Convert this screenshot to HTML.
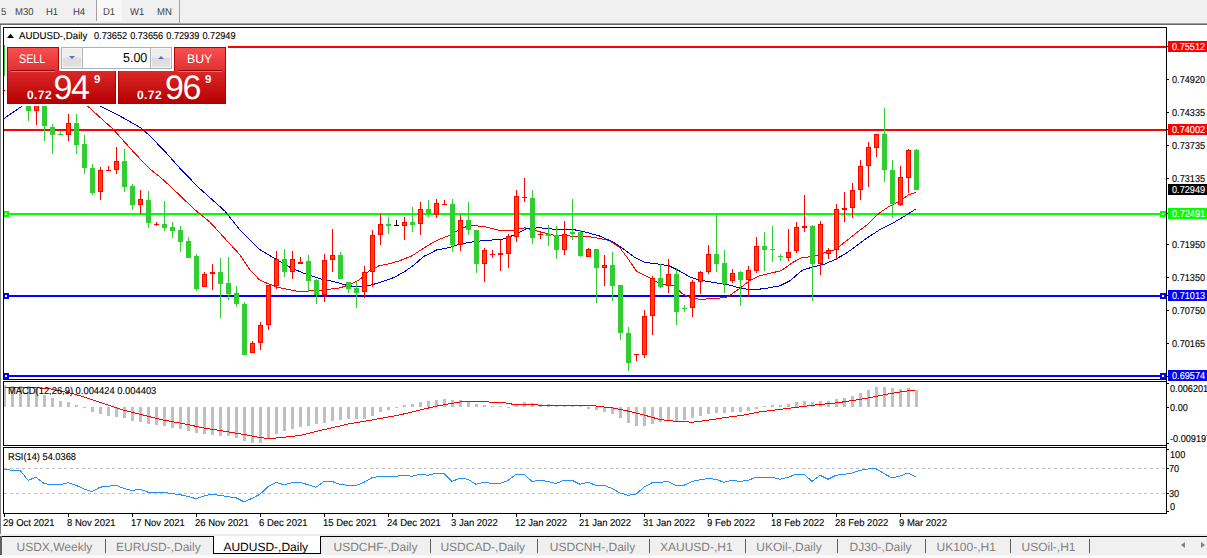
<!DOCTYPE html>
<html><head><meta charset="utf-8"><title>AUDUSD-,Daily</title>
<style>
html,body{margin:0;padding:0;}
body{text-rendering:geometricPrecision;width:1207px;height:558px;overflow:hidden;background:#fff;position:relative;font-family:"Liberation Sans",sans-serif;}
.abs{position:absolute;white-space:nowrap;}
.m,.ax,.lab span{-webkit-text-stroke:0.12px;}
.ax{position:absolute;left:1171.5px;font-size:10px;line-height:10px;color:#000;white-space:nowrap;transform-origin:0 0;transform:scaleX(0.915);}
.lab{position:absolute;left:1168px;width:39px;height:11px;overflow:hidden;}
.lab span{position:absolute;left:3.5px;top:2px;font-size:10px;line-height:10px;color:#fff;white-space:nowrap;transform-origin:0 0;transform:scaleX(0.915);}
.dt{position:absolute;top:517px;font-size:10px;line-height:10px;color:#000;white-space:nowrap;transform-origin:0 0;}
.tb{position:absolute;top:8px;font-size:10px;line-height:10px;color:#404040;transform:scaleX(0.95);white-space:nowrap;transform-origin:0 0;}
.tab{position:absolute;top:540px;font-size:12px;line-height:14px;color:#808080;white-space:nowrap;transform-origin:0 0;}
.sep{position:absolute;top:539px;width:1px;height:14px;background:#606060;}
</style></head><body>

<div class="abs" style="left:0;top:0;width:1207px;height:23px;background:#f0f0f0"></div>
<div class="abs" style="left:0;top:23px;width:1207px;height:1px;background:#a0a0a0"></div>
<div class="abs" style="left:0;top:24px;width:1207px;height:1px;background:#696969"></div>
<div class="abs" style="left:0;top:25px;width:1px;height:509px;background:#808080"></div>
<div class="abs" style="left:96px;top:0;width:26px;height:21px;background:#f8f8f8;border-left:1px solid #a0a0a0;box-sizing:border-box"></div>
<div class="abs" style="left:179px;top:0;width:1px;height:23px;background:#a0a0a0"></div>
<div class="tb" style="left:0.5px">5</div>
<div class="tb" style="left:15.3px">M30</div>
<div class="tb" style="left:45.7px">H1</div>
<div class="tb" style="left:73.4px">H4</div>
<div class="tb" style="left:102.6px">D1</div>
<div class="tb" style="left:130.0px">W1</div>
<div class="tb" style="left:156.6px">MN</div>
<svg class="abs" style="left:0;top:0" width="1207" height="558" viewBox="0 0 1207 558" shape-rendering="crispEdges">
<rect x="4" y="45" width="1" height="31" fill="#32cd32"/>
<rect x="228" y="46" width="938" height="2" fill="#ff0000"/>
<rect x="4" y="129" width="1162" height="2" fill="#ff0000"/>
<rect x="4" y="213" width="1162" height="2" fill="#00ff00"/>
<rect x="4" y="295" width="1162" height="2" fill="#0000ff"/>
<rect x="4" y="375" width="1162" height="2" fill="#0000ff"/>
<rect x="3" y="211" width="6" height="6" fill="#00ff00"/><rect x="5" y="213" width="2" height="2" fill="#fff"/>
<rect x="1160" y="211" width="6" height="6" fill="#00ff00"/><rect x="1162" y="213" width="2" height="2" fill="#fff"/>
<rect x="3" y="293" width="6" height="6" fill="#0000ff"/><rect x="5" y="295" width="2" height="2" fill="#fff"/>
<rect x="1160" y="293" width="6" height="6" fill="#0000ff"/><rect x="1162" y="295" width="2" height="2" fill="#fff"/>
<rect x="3" y="373" width="6" height="6" fill="#0000ff"/><rect x="5" y="375" width="2" height="2" fill="#fff"/>
<rect x="1160" y="373" width="6" height="6" fill="#0000ff"/><rect x="1162" y="375" width="2" height="2" fill="#fff"/>
<polyline points="4.0,91.0 40.0,88.0 70.0,92.0 83.0,101.8 87.8,106.2 112.8,128.9 135.4,154.0 150.5,169.5 160.0,177.0 170.0,186.0 194.9,209.8 209.8,222.0 224.8,238.4 239.7,254.6 249.7,269.6 259.6,280.0 269.6,284.3 279.6,287.8 289.5,289.8 299.5,291.6 309.5,291.0 324.4,289.8 339.4,288.0 349.3,284.8 359.3,279.9 369.3,271.0 379.2,265.7 389.2,263.7 399.0,261.0 411.6,256.0 424.0,248.0 436.5,240.5 450.0,235.2 462.4,227.8 472.4,225.3 484.9,226.8 499.8,230.5 512.3,230.3 524.7,227.8 539.7,231.8 554.6,235.3 569.6,236.0 584.5,236.0 599.5,238.5 609.4,240.5 619.4,247.2 626.9,257.2 636.8,271.6 649.3,277.6 659.3,283.3 669.2,285.0 674.6,286.0 682.0,293.6 689.5,297.3 699.5,299.3 714.4,298.6 726.9,297.3 734.0,292.5 739.3,288.6 749.3,281.0 759.3,276.0 771.7,272.9 779.8,271.0 784.2,268.7 792.3,262.7 802.3,257.3 812.2,256.8 822.2,253.5 834.7,249.8 844.6,242.3 854.6,234.3 867.0,224.9 879.5,212.9 889.5,206.2 899.4,201.2 908.2,195.0 916.4,192.0" fill="none" stroke="#ff0000" stroke-width="1"/>
<polyline points="4.0,118.5 21.5,106.5 25.0,104.0 60.0,92.0 95.6,104.0 100.3,106.3 120.4,116.3 140.4,127.6 150.5,136.4 160.0,146.4 163.7,150.0 182.4,171.0 199.8,188.6 224.8,211.0 239.7,229.7 249.7,240.0 259.6,249.5 274.6,258.5 289.5,267.0 304.5,273.6 319.4,278.6 334.4,281.8 346.8,285.3 356.8,286.8 366.8,286.0 379.2,282.8 394.2,277.4 404.2,271.9 414.0,265.0 424.0,256.2 429.0,254.0 436.5,250.0 442.0,249.0 450.0,247.5 455.0,245.5 470.0,242.2 484.9,240.5 502.3,239.3 514.8,234.8 527.2,228.5 539.7,227.8 554.6,229.3 572.0,229.3 584.5,231.8 599.5,236.0 614.4,242.7 624.4,249.7 634.4,257.2 644.3,262.2 659.3,264.2 669.2,265.9 679.2,270.9 689.2,276.6 699.0,280.0 714.0,282.6 729.0,285.0 740.0,288.0 750.0,289.6 762.4,288.9 779.8,285.9 789.8,280.9 802.3,270.2 812.2,267.2 824.7,264.0 834.7,259.7 844.6,254.3 854.6,247.3 867.0,238.0 879.5,229.9 892.0,223.6 904.4,216.2 916.4,208.7" fill="none" stroke="#0000cd" stroke-width="1"/>
<rect x="28" y="85" width="1" height="36" fill="#32cd32"/>
<rect x="26" y="90" width="5" height="21" fill="#32cd32"/>
<rect x="36" y="88" width="1" height="37" fill="#ff0000"/>
<rect x="34" y="92" width="5" height="19" fill="#ff0000"/>
<rect x="35" y="93" width="3" height="17" fill="#ff4500"/>
<rect x="44" y="90" width="1" height="51" fill="#32cd32"/>
<rect x="42" y="95" width="5" height="31" fill="#32cd32"/>
<rect x="52" y="124" width="1" height="30" fill="#32cd32"/>
<rect x="50" y="127" width="5" height="8" fill="#32cd32"/>
<rect x="60" y="131" width="1" height="4" fill="#32cd32"/>
<rect x="58" y="134" width="5" height="1" fill="#32cd32"/>
<rect x="68" y="114" width="1" height="27" fill="#ff0000"/>
<rect x="66" y="123" width="5" height="12" fill="#ff0000"/>
<rect x="67" y="124" width="3" height="10" fill="#ff4500"/>
<rect x="76" y="114" width="1" height="40" fill="#32cd32"/>
<rect x="74" y="123" width="5" height="22" fill="#32cd32"/>
<rect x="84" y="135" width="1" height="39" fill="#32cd32"/>
<rect x="82" y="144" width="5" height="24" fill="#32cd32"/>
<rect x="92" y="164" width="1" height="31" fill="#32cd32"/>
<rect x="90" y="168" width="5" height="25" fill="#32cd32"/>
<rect x="100" y="167" width="1" height="33" fill="#ff0000"/>
<rect x="98" y="170" width="5" height="22" fill="#ff0000"/>
<rect x="99" y="171" width="3" height="20" fill="#ff4500"/>
<rect x="108" y="166" width="1" height="4" fill="#ff0000"/>
<rect x="106" y="170" width="5" height="1" fill="#ff0000"/>
<rect x="116" y="147" width="1" height="27" fill="#ff0000"/>
<rect x="114" y="161" width="5" height="9" fill="#ff0000"/>
<rect x="115" y="162" width="3" height="7" fill="#ff4500"/>
<rect x="124" y="149" width="1" height="43" fill="#32cd32"/>
<rect x="122" y="161" width="5" height="26" fill="#32cd32"/>
<rect x="132" y="184" width="1" height="26" fill="#32cd32"/>
<rect x="130" y="186" width="5" height="19" fill="#32cd32"/>
<rect x="140" y="190" width="1" height="24" fill="#ff0000"/>
<rect x="138" y="199" width="5" height="6" fill="#ff0000"/>
<rect x="139" y="200" width="3" height="4" fill="#ff4500"/>
<rect x="148" y="191" width="1" height="37" fill="#32cd32"/>
<rect x="146" y="200" width="5" height="23" fill="#32cd32"/>
<rect x="156" y="222" width="1" height="4" fill="#ff0000"/>
<rect x="154" y="224" width="5" height="1" fill="#ff0000"/>
<rect x="164" y="201" width="1" height="30" fill="#32cd32"/>
<rect x="162" y="224" width="5" height="4" fill="#32cd32"/>
<rect x="172" y="222" width="1" height="16" fill="#32cd32"/>
<rect x="170" y="227" width="5" height="4" fill="#32cd32"/>
<rect x="180" y="226" width="1" height="26" fill="#32cd32"/>
<rect x="178" y="230" width="5" height="12" fill="#32cd32"/>
<rect x="188" y="237" width="1" height="21" fill="#32cd32"/>
<rect x="186" y="241" width="5" height="17" fill="#32cd32"/>
<rect x="196" y="254" width="1" height="37" fill="#32cd32"/>
<rect x="194" y="256" width="5" height="33" fill="#32cd32"/>
<rect x="204" y="272" width="1" height="15" fill="#ff0000"/>
<rect x="202" y="274" width="5" height="13" fill="#ff0000"/>
<rect x="203" y="275" width="3" height="11" fill="#ff4500"/>
<rect x="212" y="264" width="1" height="26" fill="#ff0000"/>
<rect x="210" y="272" width="5" height="2" fill="#ff0000"/>
<rect x="220" y="258" width="1" height="60" fill="#32cd32"/>
<rect x="218" y="272" width="5" height="12" fill="#32cd32"/>
<rect x="228" y="257" width="1" height="43" fill="#32cd32"/>
<rect x="226" y="283" width="5" height="11" fill="#32cd32"/>
<rect x="236" y="286" width="1" height="21" fill="#32cd32"/>
<rect x="234" y="293" width="5" height="11" fill="#32cd32"/>
<rect x="244" y="302" width="1" height="53" fill="#32cd32"/>
<rect x="242" y="304" width="5" height="51" fill="#32cd32"/>
<rect x="252" y="341" width="1" height="12" fill="#ff0000"/>
<rect x="250" y="343" width="5" height="10" fill="#ff0000"/>
<rect x="251" y="344" width="3" height="8" fill="#ff4500"/>
<rect x="260" y="322" width="1" height="28" fill="#ff0000"/>
<rect x="258" y="325" width="5" height="18" fill="#ff0000"/>
<rect x="259" y="326" width="3" height="16" fill="#ff4500"/>
<rect x="268" y="285" width="1" height="45" fill="#ff0000"/>
<rect x="266" y="285" width="5" height="40" fill="#ff0000"/>
<rect x="267" y="286" width="3" height="38" fill="#ff4500"/>
<rect x="276" y="251" width="1" height="38" fill="#ff0000"/>
<rect x="274" y="259" width="5" height="27" fill="#ff0000"/>
<rect x="275" y="260" width="3" height="25" fill="#ff4500"/>
<rect x="284" y="249" width="1" height="28" fill="#32cd32"/>
<rect x="282" y="259" width="5" height="13" fill="#32cd32"/>
<rect x="292" y="251" width="1" height="28" fill="#ff0000"/>
<rect x="290" y="259" width="5" height="13" fill="#ff0000"/>
<rect x="291" y="260" width="3" height="11" fill="#ff4500"/>
<rect x="300" y="257" width="1" height="7" fill="#ff0000"/>
<rect x="298" y="262" width="5" height="2" fill="#ff0000"/>
<rect x="308" y="255" width="1" height="37" fill="#32cd32"/>
<rect x="306" y="261" width="5" height="20" fill="#32cd32"/>
<rect x="316" y="279" width="1" height="25" fill="#32cd32"/>
<rect x="314" y="280" width="5" height="15" fill="#32cd32"/>
<rect x="324" y="254" width="1" height="48" fill="#ff0000"/>
<rect x="322" y="260" width="5" height="35" fill="#ff0000"/>
<rect x="323" y="261" width="3" height="33" fill="#ff4500"/>
<rect x="332" y="229" width="1" height="43" fill="#ff0000"/>
<rect x="330" y="255" width="5" height="5" fill="#ff0000"/>
<rect x="331" y="256" width="3" height="3" fill="#ff4500"/>
<rect x="340" y="252" width="1" height="27" fill="#32cd32"/>
<rect x="338" y="255" width="5" height="24" fill="#32cd32"/>
<rect x="348" y="282" width="1" height="11" fill="#32cd32"/>
<rect x="346" y="282" width="5" height="7" fill="#32cd32"/>
<rect x="356" y="282" width="1" height="26" fill="#32cd32"/>
<rect x="354" y="288" width="5" height="5" fill="#32cd32"/>
<rect x="364" y="266" width="1" height="32" fill="#ff0000"/>
<rect x="362" y="272" width="5" height="20" fill="#ff0000"/>
<rect x="363" y="273" width="3" height="18" fill="#ff4500"/>
<rect x="372" y="230" width="1" height="57" fill="#ff0000"/>
<rect x="370" y="235" width="5" height="37" fill="#ff0000"/>
<rect x="371" y="236" width="3" height="35" fill="#ff4500"/>
<rect x="380" y="214" width="1" height="31" fill="#ff0000"/>
<rect x="378" y="224" width="5" height="11" fill="#ff0000"/>
<rect x="379" y="225" width="3" height="9" fill="#ff4500"/>
<rect x="388" y="217" width="1" height="17" fill="#32cd32"/>
<rect x="386" y="224" width="5" height="2" fill="#32cd32"/>
<rect x="396" y="220" width="1" height="6" fill="#000"/>
<rect x="394" y="225" width="5" height="1" fill="#000"/>
<rect x="404" y="217" width="1" height="23" fill="#ff0000"/>
<rect x="402" y="222" width="5" height="4" fill="#ff0000"/>
<rect x="403" y="223" width="3" height="2" fill="#ff4500"/>
<rect x="412" y="207" width="1" height="25" fill="#32cd32"/>
<rect x="410" y="222" width="5" height="3" fill="#32cd32"/>
<rect x="420" y="202" width="1" height="33" fill="#ff0000"/>
<rect x="418" y="209" width="5" height="15" fill="#ff0000"/>
<rect x="419" y="210" width="3" height="13" fill="#ff4500"/>
<rect x="428" y="200" width="1" height="17" fill="#32cd32"/>
<rect x="426" y="209" width="5" height="5" fill="#32cd32"/>
<rect x="436" y="199" width="1" height="19" fill="#ff0000"/>
<rect x="434" y="203" width="5" height="12" fill="#ff0000"/>
<rect x="435" y="204" width="3" height="10" fill="#ff4500"/>
<rect x="444" y="200" width="1" height="5" fill="#ff0000"/>
<rect x="442" y="204" width="5" height="1" fill="#ff0000"/>
<rect x="452" y="199" width="1" height="53" fill="#32cd32"/>
<rect x="450" y="204" width="5" height="41" fill="#32cd32"/>
<rect x="460" y="215" width="1" height="36" fill="#ff0000"/>
<rect x="458" y="220" width="5" height="25" fill="#ff0000"/>
<rect x="459" y="221" width="3" height="23" fill="#ff4500"/>
<rect x="468" y="202" width="1" height="33" fill="#32cd32"/>
<rect x="466" y="220" width="5" height="10" fill="#32cd32"/>
<rect x="476" y="230" width="1" height="43" fill="#32cd32"/>
<rect x="474" y="230" width="5" height="34" fill="#32cd32"/>
<rect x="484" y="248" width="1" height="34" fill="#ff0000"/>
<rect x="482" y="250" width="5" height="14" fill="#ff0000"/>
<rect x="483" y="251" width="3" height="12" fill="#ff4500"/>
<rect x="492" y="250" width="1" height="8" fill="#ff0000"/>
<rect x="490" y="254" width="5" height="1" fill="#ff0000"/>
<rect x="500" y="240" width="1" height="31" fill="#ff0000"/>
<rect x="498" y="253" width="5" height="2" fill="#ff0000"/>
<rect x="508" y="234" width="1" height="34" fill="#ff0000"/>
<rect x="506" y="236" width="5" height="18" fill="#ff0000"/>
<rect x="507" y="237" width="3" height="16" fill="#ff4500"/>
<rect x="516" y="190" width="1" height="52" fill="#ff0000"/>
<rect x="514" y="196" width="5" height="41" fill="#ff0000"/>
<rect x="515" y="197" width="3" height="39" fill="#ff4500"/>
<rect x="524" y="178" width="1" height="24" fill="#ff0000"/>
<rect x="522" y="197" width="5" height="1" fill="#ff0000"/>
<rect x="532" y="190" width="1" height="54" fill="#32cd32"/>
<rect x="530" y="198" width="5" height="40" fill="#32cd32"/>
<rect x="540" y="232" width="1" height="7" fill="#ff0000"/>
<rect x="538" y="234" width="5" height="1" fill="#ff0000"/>
<rect x="548" y="225" width="1" height="21" fill="#32cd32"/>
<rect x="546" y="234" width="5" height="2" fill="#32cd32"/>
<rect x="556" y="226" width="1" height="33" fill="#32cd32"/>
<rect x="554" y="235" width="5" height="15" fill="#32cd32"/>
<rect x="564" y="221" width="1" height="34" fill="#ff0000"/>
<rect x="562" y="234" width="5" height="16" fill="#ff0000"/>
<rect x="563" y="235" width="3" height="14" fill="#ff4500"/>
<rect x="572" y="199" width="1" height="41" fill="#32cd32"/>
<rect x="570" y="232" width="5" height="2" fill="#32cd32"/>
<rect x="580" y="230" width="1" height="27" fill="#32cd32"/>
<rect x="578" y="232" width="5" height="24" fill="#32cd32"/>
<rect x="588" y="248" width="1" height="9" fill="#ff0000"/>
<rect x="586" y="249" width="5" height="8" fill="#ff0000"/>
<rect x="587" y="250" width="3" height="6" fill="#ff4500"/>
<rect x="596" y="249" width="1" height="54" fill="#32cd32"/>
<rect x="594" y="249" width="5" height="19" fill="#32cd32"/>
<rect x="604" y="255" width="1" height="31" fill="#ff0000"/>
<rect x="602" y="265" width="5" height="3" fill="#ff0000"/>
<rect x="603" y="266" width="3" height="1" fill="#ff4500"/>
<rect x="612" y="252" width="1" height="49" fill="#32cd32"/>
<rect x="610" y="265" width="5" height="21" fill="#32cd32"/>
<rect x="620" y="285" width="1" height="55" fill="#32cd32"/>
<rect x="618" y="285" width="5" height="48" fill="#32cd32"/>
<rect x="628" y="327" width="1" height="44" fill="#32cd32"/>
<rect x="626" y="333" width="5" height="30" fill="#32cd32"/>
<rect x="636" y="354" width="1" height="7" fill="#ff0000"/>
<rect x="634" y="354" width="5" height="1" fill="#ff0000"/>
<rect x="644" y="310" width="1" height="48" fill="#ff0000"/>
<rect x="642" y="316" width="5" height="39" fill="#ff0000"/>
<rect x="643" y="317" width="3" height="37" fill="#ff4500"/>
<rect x="652" y="276" width="1" height="59" fill="#ff0000"/>
<rect x="650" y="278" width="5" height="38" fill="#ff0000"/>
<rect x="651" y="279" width="3" height="36" fill="#ff4500"/>
<rect x="660" y="264" width="1" height="24" fill="#32cd32"/>
<rect x="658" y="278" width="5" height="9" fill="#32cd32"/>
<rect x="668" y="259" width="1" height="34" fill="#ff0000"/>
<rect x="666" y="274" width="5" height="12" fill="#ff0000"/>
<rect x="667" y="275" width="3" height="10" fill="#ff4500"/>
<rect x="676" y="268" width="1" height="57" fill="#32cd32"/>
<rect x="674" y="274" width="5" height="38" fill="#32cd32"/>
<rect x="684" y="305" width="1" height="7" fill="#32cd32"/>
<rect x="682" y="308" width="5" height="1" fill="#32cd32"/>
<rect x="692" y="280" width="1" height="37" fill="#ff0000"/>
<rect x="690" y="282" width="5" height="26" fill="#ff0000"/>
<rect x="691" y="283" width="3" height="24" fill="#ff4500"/>
<rect x="700" y="271" width="1" height="23" fill="#ff0000"/>
<rect x="698" y="272" width="5" height="10" fill="#ff0000"/>
<rect x="699" y="273" width="3" height="8" fill="#ff4500"/>
<rect x="708" y="245" width="1" height="29" fill="#ff0000"/>
<rect x="706" y="254" width="5" height="18" fill="#ff0000"/>
<rect x="707" y="255" width="3" height="16" fill="#ff4500"/>
<rect x="716" y="215" width="1" height="57" fill="#32cd32"/>
<rect x="714" y="254" width="5" height="10" fill="#32cd32"/>
<rect x="724" y="250" width="1" height="43" fill="#32cd32"/>
<rect x="722" y="263" width="5" height="21" fill="#32cd32"/>
<rect x="732" y="269" width="1" height="14" fill="#ff0000"/>
<rect x="730" y="273" width="5" height="8" fill="#ff0000"/>
<rect x="731" y="274" width="3" height="6" fill="#ff4500"/>
<rect x="740" y="271" width="1" height="35" fill="#32cd32"/>
<rect x="738" y="272" width="5" height="8" fill="#32cd32"/>
<rect x="748" y="266" width="1" height="31" fill="#ff0000"/>
<rect x="746" y="270" width="5" height="10" fill="#ff0000"/>
<rect x="747" y="271" width="3" height="8" fill="#ff4500"/>
<rect x="756" y="237" width="1" height="36" fill="#ff0000"/>
<rect x="754" y="246" width="5" height="25" fill="#ff0000"/>
<rect x="755" y="247" width="3" height="23" fill="#ff4500"/>
<rect x="764" y="232" width="1" height="39" fill="#32cd32"/>
<rect x="762" y="246" width="5" height="4" fill="#32cd32"/>
<rect x="772" y="226" width="1" height="36" fill="#32cd32"/>
<rect x="770" y="249" width="5" height="1" fill="#32cd32"/>
<rect x="780" y="254" width="1" height="7" fill="#32cd32"/>
<rect x="778" y="256" width="5" height="1" fill="#32cd32"/>
<rect x="788" y="229" width="1" height="32" fill="#ff0000"/>
<rect x="786" y="252" width="5" height="6" fill="#ff0000"/>
<rect x="787" y="253" width="3" height="4" fill="#ff4500"/>
<rect x="796" y="222" width="1" height="31" fill="#ff0000"/>
<rect x="794" y="227" width="5" height="24" fill="#ff0000"/>
<rect x="795" y="228" width="3" height="22" fill="#ff4500"/>
<rect x="804" y="195" width="1" height="37" fill="#ff0000"/>
<rect x="802" y="226" width="5" height="2" fill="#ff0000"/>
<rect x="812" y="225" width="1" height="76" fill="#32cd32"/>
<rect x="810" y="226" width="5" height="38" fill="#32cd32"/>
<rect x="820" y="221" width="1" height="54" fill="#ff0000"/>
<rect x="818" y="224" width="5" height="40" fill="#ff0000"/>
<rect x="819" y="225" width="3" height="38" fill="#ff4500"/>
<rect x="828" y="248" width="1" height="11" fill="#ff0000"/>
<rect x="826" y="250" width="5" height="4" fill="#ff0000"/>
<rect x="827" y="251" width="3" height="2" fill="#ff4500"/>
<rect x="836" y="204" width="1" height="56" fill="#ff0000"/>
<rect x="834" y="209" width="5" height="41" fill="#ff0000"/>
<rect x="835" y="210" width="3" height="39" fill="#ff4500"/>
<rect x="844" y="192" width="1" height="30" fill="#ff0000"/>
<rect x="842" y="208" width="5" height="2" fill="#ff0000"/>
<rect x="852" y="183" width="1" height="35" fill="#ff0000"/>
<rect x="850" y="190" width="5" height="18" fill="#ff0000"/>
<rect x="851" y="191" width="3" height="16" fill="#ff4500"/>
<rect x="860" y="160" width="1" height="40" fill="#ff0000"/>
<rect x="858" y="166" width="5" height="24" fill="#ff0000"/>
<rect x="859" y="167" width="3" height="22" fill="#ff4500"/>
<rect x="868" y="142" width="1" height="45" fill="#ff0000"/>
<rect x="866" y="147" width="5" height="19" fill="#ff0000"/>
<rect x="867" y="148" width="3" height="17" fill="#ff4500"/>
<rect x="876" y="134" width="1" height="23" fill="#ff0000"/>
<rect x="874" y="134" width="5" height="14" fill="#ff0000"/>
<rect x="875" y="135" width="3" height="12" fill="#ff4500"/>
<rect x="884" y="108" width="1" height="74" fill="#32cd32"/>
<rect x="882" y="134" width="5" height="36" fill="#32cd32"/>
<rect x="892" y="160" width="1" height="58" fill="#32cd32"/>
<rect x="890" y="170" width="5" height="34" fill="#32cd32"/>
<rect x="900" y="166" width="1" height="40" fill="#ff0000"/>
<rect x="898" y="177" width="5" height="28" fill="#ff0000"/>
<rect x="899" y="178" width="3" height="26" fill="#ff4500"/>
<rect x="908" y="149" width="1" height="44" fill="#ff0000"/>
<rect x="906" y="150" width="5" height="28" fill="#ff0000"/>
<rect x="907" y="151" width="3" height="26" fill="#ff4500"/>
<rect x="916" y="149" width="1" height="41" fill="#32cd32"/>
<rect x="914" y="150" width="5" height="40" fill="#32cd32"/>
<rect x="4" y="385" width="2" height="22" fill="#c0c0c0"/>
<rect x="11" y="386" width="3" height="21" fill="#c0c0c0"/>
<rect x="19" y="386" width="3" height="21" fill="#c0c0c0"/>
<rect x="27" y="386" width="3" height="21" fill="#c0c0c0"/>
<rect x="35" y="387" width="3" height="20" fill="#c0c0c0"/>
<rect x="43" y="395" width="3" height="12" fill="#c0c0c0"/>
<rect x="51" y="398" width="3" height="9" fill="#c0c0c0"/>
<rect x="59" y="401" width="3" height="6" fill="#c0c0c0"/>
<rect x="67" y="402" width="3" height="5" fill="#c0c0c0"/>
<rect x="75" y="405" width="3" height="2" fill="#c0c0c0"/>
<rect x="83" y="407" width="3" height="1" fill="#c0c0c0"/>
<rect x="91" y="407" width="3" height="5" fill="#c0c0c0"/>
<rect x="99" y="407" width="3" height="7" fill="#c0c0c0"/>
<rect x="107" y="407" width="3" height="9" fill="#c0c0c0"/>
<rect x="115" y="407" width="3" height="10" fill="#c0c0c0"/>
<rect x="123" y="407" width="3" height="11" fill="#c0c0c0"/>
<rect x="131" y="407" width="3" height="14" fill="#c0c0c0"/>
<rect x="139" y="407" width="3" height="15" fill="#c0c0c0"/>
<rect x="147" y="407" width="3" height="17" fill="#c0c0c0"/>
<rect x="155" y="407" width="3" height="18" fill="#c0c0c0"/>
<rect x="163" y="407" width="3" height="19" fill="#c0c0c0"/>
<rect x="171" y="407" width="3" height="21" fill="#c0c0c0"/>
<rect x="179" y="407" width="3" height="22" fill="#c0c0c0"/>
<rect x="187" y="407" width="3" height="24" fill="#c0c0c0"/>
<rect x="195" y="407" width="3" height="26" fill="#c0c0c0"/>
<rect x="203" y="407" width="3" height="27" fill="#c0c0c0"/>
<rect x="211" y="407" width="3" height="28" fill="#c0c0c0"/>
<rect x="219" y="407" width="3" height="29" fill="#c0c0c0"/>
<rect x="227" y="407" width="3" height="29" fill="#c0c0c0"/>
<rect x="235" y="407" width="3" height="31" fill="#c0c0c0"/>
<rect x="243" y="407" width="3" height="34" fill="#c0c0c0"/>
<rect x="251" y="407" width="3" height="36" fill="#c0c0c0"/>
<rect x="259" y="407" width="3" height="36" fill="#c0c0c0"/>
<rect x="267" y="407" width="3" height="32" fill="#c0c0c0"/>
<rect x="275" y="407" width="3" height="27" fill="#c0c0c0"/>
<rect x="283" y="407" width="3" height="24" fill="#c0c0c0"/>
<rect x="291" y="407" width="3" height="22" fill="#c0c0c0"/>
<rect x="299" y="407" width="3" height="20" fill="#c0c0c0"/>
<rect x="307" y="407" width="3" height="19" fill="#c0c0c0"/>
<rect x="315" y="407" width="3" height="17" fill="#c0c0c0"/>
<rect x="323" y="407" width="3" height="16" fill="#c0c0c0"/>
<rect x="331" y="407" width="3" height="14" fill="#c0c0c0"/>
<rect x="339" y="407" width="3" height="13" fill="#c0c0c0"/>
<rect x="347" y="407" width="3" height="12" fill="#c0c0c0"/>
<rect x="355" y="407" width="3" height="12" fill="#c0c0c0"/>
<rect x="363" y="407" width="3" height="12" fill="#c0c0c0"/>
<rect x="371" y="407" width="3" height="9" fill="#c0c0c0"/>
<rect x="379" y="407" width="3" height="5" fill="#c0c0c0"/>
<rect x="387" y="407" width="3" height="3" fill="#c0c0c0"/>
<rect x="395" y="407" width="3" height="1" fill="#c0c0c0"/>
<rect x="403" y="405" width="3" height="2" fill="#c0c0c0"/>
<rect x="411" y="404" width="3" height="3" fill="#c0c0c0"/>
<rect x="419" y="402" width="3" height="5" fill="#c0c0c0"/>
<rect x="427" y="401" width="3" height="6" fill="#c0c0c0"/>
<rect x="435" y="400" width="3" height="7" fill="#c0c0c0"/>
<rect x="443" y="399" width="3" height="8" fill="#c0c0c0"/>
<rect x="451" y="400" width="3" height="7" fill="#c0c0c0"/>
<rect x="459" y="400" width="3" height="7" fill="#c0c0c0"/>
<rect x="467" y="402" width="3" height="5" fill="#c0c0c0"/>
<rect x="475" y="404" width="3" height="3" fill="#c0c0c0"/>
<rect x="483" y="405" width="3" height="2" fill="#c0c0c0"/>
<rect x="491" y="406" width="3" height="1" fill="#c0c0c0"/>
<rect x="499" y="406" width="3" height="1" fill="#c0c0c0"/>
<rect x="507" y="407" width="3" height="1" fill="#c0c0c0"/>
<rect x="515" y="404" width="3" height="3" fill="#c0c0c0"/>
<rect x="523" y="402" width="3" height="5" fill="#c0c0c0"/>
<rect x="531" y="403" width="3" height="4" fill="#c0c0c0"/>
<rect x="539" y="404" width="3" height="3" fill="#c0c0c0"/>
<rect x="547" y="404" width="3" height="3" fill="#c0c0c0"/>
<rect x="555" y="405" width="3" height="2" fill="#c0c0c0"/>
<rect x="563" y="405" width="3" height="2" fill="#c0c0c0"/>
<rect x="571" y="406" width="3" height="1" fill="#c0c0c0"/>
<rect x="579" y="406" width="3" height="1" fill="#c0c0c0"/>
<rect x="587" y="407" width="3" height="2" fill="#c0c0c0"/>
<rect x="595" y="407" width="3" height="3" fill="#c0c0c0"/>
<rect x="603" y="407" width="3" height="5" fill="#c0c0c0"/>
<rect x="611" y="407" width="3" height="7" fill="#c0c0c0"/>
<rect x="619" y="407" width="3" height="11" fill="#c0c0c0"/>
<rect x="627" y="407" width="3" height="16" fill="#c0c0c0"/>
<rect x="635" y="407" width="3" height="19" fill="#c0c0c0"/>
<rect x="643" y="407" width="3" height="19" fill="#c0c0c0"/>
<rect x="651" y="407" width="3" height="17" fill="#c0c0c0"/>
<rect x="659" y="407" width="3" height="15" fill="#c0c0c0"/>
<rect x="667" y="407" width="3" height="14" fill="#c0c0c0"/>
<rect x="675" y="407" width="3" height="14" fill="#c0c0c0"/>
<rect x="683" y="407" width="3" height="13" fill="#c0c0c0"/>
<rect x="691" y="407" width="3" height="11" fill="#c0c0c0"/>
<rect x="699" y="407" width="3" height="9" fill="#c0c0c0"/>
<rect x="707" y="407" width="3" height="7" fill="#c0c0c0"/>
<rect x="715" y="407" width="3" height="6" fill="#c0c0c0"/>
<rect x="723" y="407" width="3" height="6" fill="#c0c0c0"/>
<rect x="731" y="407" width="3" height="5" fill="#c0c0c0"/>
<rect x="739" y="407" width="3" height="5" fill="#c0c0c0"/>
<rect x="747" y="407" width="3" height="4" fill="#c0c0c0"/>
<rect x="755" y="407" width="3" height="2" fill="#c0c0c0"/>
<rect x="763" y="406" width="3" height="1" fill="#c0c0c0"/>
<rect x="771" y="405" width="3" height="2" fill="#c0c0c0"/>
<rect x="779" y="405" width="3" height="2" fill="#c0c0c0"/>
<rect x="787" y="404" width="3" height="3" fill="#c0c0c0"/>
<rect x="795" y="402" width="3" height="5" fill="#c0c0c0"/>
<rect x="803" y="401" width="3" height="6" fill="#c0c0c0"/>
<rect x="811" y="402" width="3" height="5" fill="#c0c0c0"/>
<rect x="819" y="401" width="3" height="6" fill="#c0c0c0"/>
<rect x="827" y="401" width="3" height="6" fill="#c0c0c0"/>
<rect x="835" y="399" width="3" height="8" fill="#c0c0c0"/>
<rect x="843" y="398" width="3" height="9" fill="#c0c0c0"/>
<rect x="851" y="396" width="3" height="11" fill="#c0c0c0"/>
<rect x="859" y="393" width="3" height="14" fill="#c0c0c0"/>
<rect x="867" y="390" width="3" height="17" fill="#c0c0c0"/>
<rect x="875" y="387" width="3" height="20" fill="#c0c0c0"/>
<rect x="883" y="387" width="3" height="20" fill="#c0c0c0"/>
<rect x="891" y="388" width="3" height="19" fill="#c0c0c0"/>
<rect x="899" y="389" width="3" height="18" fill="#c0c0c0"/>
<rect x="907" y="388" width="3" height="19" fill="#c0c0c0"/>
<rect x="915" y="390" width="3" height="17" fill="#c0c0c0"/>
<polyline points="4.5,387.7 37.0,387.7 50.0,388.9 72.0,393.4 87.0,397.9 104.0,403.8 124.0,410.3 144.0,415.2 164.0,420.2 184.0,423.7 204.0,428.1 224.0,431.1 243.6,434.4 258.5,437.3 268.5,438.6 281.0,437.6 300.0,435.4 324.9,429.4 349.7,423.7 374.6,419.5 399.4,415.0 424.3,409.0 435.6,406.3 463.5,401.3 487.3,401.3 489.3,402.3 505.2,402.9 513.2,404.3 537.0,404.3 539.0,405.5 592.7,405.5 598.7,406.5 604.0,407.0 615.0,408.3 629.8,411.5 644.7,415.2 659.7,419.5 674.6,421.2 692.0,422.2 704.4,420.7 724.3,417.7 744.2,415.0 759.0,412.0 779.0,409.5 798.9,407.0 818.7,404.6 838.6,402.6 858.5,399.6 873.4,397.0 888.3,394.0 900.0,392.0 915.0,390.0" fill="none" stroke="#ff0000" stroke-width="1"/>
<line x1="4" y1="468.5" x2="1166" y2="468.5" stroke="#c0c0c0" stroke-width="1" stroke-dasharray="3,3"/>
<line x1="4" y1="493.5" x2="1166" y2="493.5" stroke="#c0c0c0" stroke-width="1" stroke-dasharray="3,3"/>
<polyline points="4.5,469.3 12.0,470.3 20.0,470.3 28.0,480.3 36.0,477.3 44.0,483.5 52.0,484.8 60.0,484.8 68.0,482.8 76.0,485.3 84.0,489.0 92.0,491.7 100.0,487.2 108.0,486.2 116.0,485.3 124.0,488.5 132.0,490.5 140.0,489.2 148.0,492.2 156.0,492.5 164.0,492.5 172.0,493.5 184.0,495.4 196.0,498.7 204.0,496.0 212.0,494.2 220.0,495.4 228.0,496.7 236.0,497.7 244.0,501.7 252.0,498.4 260.0,494.2 268.0,486.7 276.0,482.3 284.0,484.8 292.0,482.8 300.0,482.3 308.0,484.8 316.0,487.2 324.0,481.5 332.0,481.5 340.0,484.3 348.0,485.5 356.0,485.5 364.0,482.3 372.0,477.8 380.0,476.3 388.0,476.3 396.0,476.3 404.0,475.3 412.0,476.3 420.0,474.3 428.0,475.3 436.0,473.3 444.0,473.3 452.0,481.3 460.0,478.3 468.0,479.3 476.0,484.3 484.0,482.3 492.0,483.5 500.0,483.5 508.0,480.5 516.0,474.3 524.0,474.3 532.0,481.5 540.0,480.3 548.0,481.5 556.0,483.5 564.0,480.3 572.0,480.3 580.0,484.3 588.0,482.3 596.0,485.3 604.0,485.3 612.0,488.5 620.0,493.0 628.0,495.2 636.0,494.2 644.0,487.2 652.0,482.8 660.0,482.3 668.0,481.5 676.0,485.3 684.0,485.3 692.0,481.5 700.0,479.8 708.0,478.5 716.0,479.3 724.0,482.3 732.0,480.3 740.0,481.5 748.0,480.3 756.0,477.3 764.0,477.3 772.0,477.3 780.0,479.3 788.0,477.3 796.0,474.3 804.0,474.3 812.0,481.3 820.0,475.3 828.0,479.3 836.0,475.3 844.0,474.3 852.0,473.0 860.0,470.3 868.0,469.0 875.0,468.0 884.0,473.6 892.0,478.0 900.0,476.0 908.0,473.0 916.0,477.0" fill="none" stroke="#1e90ff" stroke-width="1"/>
<rect x="3" y="27" width="1164" height="1" fill="#000"/>
<rect x="3" y="27" width="1" height="353" fill="#000"/>
<rect x="3" y="379" width="1164" height="1" fill="#000"/>
<rect x="1166" y="27" width="1" height="487" fill="#000"/>
<rect x="3" y="381" width="1164" height="1" fill="#000"/>
<rect x="3" y="381" width="1" height="65" fill="#000"/>
<rect x="3" y="445" width="1164" height="1" fill="#000"/>
<rect x="3" y="447" width="1164" height="1" fill="#000"/>
<rect x="3" y="447" width="1" height="67" fill="#000"/>
<rect x="3" y="513" width="1164" height="1" fill="#000"/>
<rect x="1167" y="79" width="2" height="1" fill="#000"/>
<rect x="1167" y="112" width="2" height="1" fill="#000"/>
<rect x="1167" y="145" width="2" height="1" fill="#000"/>
<rect x="1167" y="178" width="2" height="1" fill="#000"/>
<rect x="1167" y="244" width="2" height="1" fill="#000"/>
<rect x="1167" y="277" width="2" height="1" fill="#000"/>
<rect x="1167" y="310" width="2" height="1" fill="#000"/>
<rect x="1167" y="343" width="2" height="1" fill="#000"/>
<rect x="1167" y="46" width="1" height="1" fill="#000"/>
<rect x="1167" y="129" width="1" height="1" fill="#000"/>
<rect x="1167" y="213" width="1" height="1" fill="#000"/>
<rect x="1167" y="295" width="1" height="1" fill="#000"/>
<rect x="1167" y="376" width="1" height="1" fill="#000"/>
<rect x="1167" y="383" width="2" height="1" fill="#000"/>
<rect x="1167" y="407" width="2" height="1" fill="#000"/>
<rect x="1167" y="443" width="2" height="1" fill="#000"/>
<rect x="1167" y="449" width="2" height="1" fill="#000"/>
<rect x="1167" y="468" width="2" height="1" fill="#000"/>
<rect x="1167" y="493" width="2" height="1" fill="#000"/>
<rect x="1167" y="511" width="2" height="1" fill="#000"/>
<rect x="4" y="514" width="1" height="3" fill="#000"/>
<rect x="68" y="514" width="1" height="3" fill="#000"/>
<rect x="132" y="514" width="1" height="3" fill="#000"/>
<rect x="196" y="514" width="1" height="3" fill="#000"/>
<rect x="260" y="514" width="1" height="3" fill="#000"/>
<rect x="324" y="514" width="1" height="3" fill="#000"/>
<rect x="388" y="514" width="1" height="3" fill="#000"/>
<rect x="452" y="514" width="1" height="3" fill="#000"/>
<rect x="516" y="514" width="1" height="3" fill="#000"/>
<rect x="580" y="514" width="1" height="3" fill="#000"/>
<rect x="644" y="514" width="1" height="3" fill="#000"/>
<rect x="708" y="514" width="1" height="3" fill="#000"/>
<rect x="772" y="514" width="1" height="3" fill="#000"/>
<rect x="836" y="514" width="1" height="3" fill="#000"/>
<rect x="900" y="514" width="1" height="3" fill="#000"/>
<polygon points="7,38 14,38 10.5,33.8" fill="#000" shape-rendering="auto"/>
</svg>
<div class="abs m" id="title" style="left:19.4px;top:32.0px;font-size:10px;line-height:10px;color:#000;transform-origin:0 0;transform:scaleX(0.9679);">AUDUSD-,Daily</div>
<div class="abs m" id="title2" style="left:93.8px;top:32.0px;font-size:10px;line-height:10px;color:#000;transform-origin:0 0;transform:scaleX(0.9145);word-spacing:0.6px;">0.73652 0.73656 0.72939 0.72949</div>
<div class="abs m" id="lmacd" style="left:8.2px;top:387.0px;font-size:10px;line-height:10px;color:#000;transform-origin:0 0;transform:scaleX(0.9359);">MACD(12,26,9) 0.004424 0.004403</div>
<div class="abs m" id="lrsi" style="left:8.2px;top:453.0px;font-size:10px;line-height:10px;color:#000;transform-origin:0 0;transform:scaleX(0.9265);">RSI(14) 54.0368</div>
<div class="ax" style="top:76px">0.74920</div>
<div class="ax" style="top:109px">0.74335</div>
<div class="ax" style="top:142px">0.73735</div>
<div class="ax" style="top:175px">0.73135</div>
<div class="ax" style="top:241px">0.71950</div>
<div class="ax" style="top:274px">0.71350</div>
<div class="ax" style="top:307px">0.70750</div>
<div class="ax" style="top:340px">0.70165</div>
<div class="lab" style="top:41px;background:#ff0000"><span>0.75512</span></div>
<div class="lab" style="top:124px;background:#ff0000"><span>0.74002</span></div>
<div class="lab" style="top:184px;background:#000"><span>0.72949</span></div>
<div class="lab" style="top:208px;background:#00ff00"><span>0.72491</span></div>
<div class="lab" style="top:290px;background:#0000ff"><span>0.71013</span></div>
<div class="lab" style="top:370px;background:#0000ff"><span>0.69574</span></div>
<div class="ax" style="left:1170.0px;top:385px">0.006201</div>
<div class="ax" style="left:1170.0px;top:404px">0.00</div>
<div class="ax" style="left:1170.0px;top:435px">-0.009197</div>
<div class="ax" style="left:1170.0px;top:451px">100</div>
<div class="ax" style="left:1169.0px;top:465px">70</div>
<div class="ax" style="left:1169.0px;top:490px">30</div>
<div class="ax" style="left:1170.0px;top:503px">0</div>
<div class="abs m" id="d0" style="left:2.6px;top:519.0px;font-size:10px;line-height:10px;color:#000;transform-origin:0 0;transform:scaleX(0.9470);">29 Oct 2021</div>
<div class="abs m" id="d1" style="left:66.6px;top:519.0px;font-size:10px;line-height:10px;color:#000;transform-origin:0 0;transform:scaleX(0.9470);">8 Nov 2021</div>
<div class="abs m" id="d2" style="left:130.6px;top:519.0px;font-size:10px;line-height:10px;color:#000;transform-origin:0 0;transform:scaleX(0.9470);">17 Nov 2021</div>
<div class="abs m" id="d3" style="left:194.6px;top:519.0px;font-size:10px;line-height:10px;color:#000;transform-origin:0 0;transform:scaleX(0.9470);">26 Nov 2021</div>
<div class="abs m" id="d4" style="left:258.6px;top:519.0px;font-size:10px;line-height:10px;color:#000;transform-origin:0 0;transform:scaleX(0.9470);">6 Dec 2021</div>
<div class="abs m" id="d5" style="left:322.6px;top:519.0px;font-size:10px;line-height:10px;color:#000;transform-origin:0 0;transform:scaleX(0.9470);">15 Dec 2021</div>
<div class="abs m" id="d6" style="left:386.6px;top:519.0px;font-size:10px;line-height:10px;color:#000;transform-origin:0 0;transform:scaleX(0.9470);">24 Dec 2021</div>
<div class="abs m" id="d7" style="left:450.6px;top:519.0px;font-size:10px;line-height:10px;color:#000;transform-origin:0 0;transform:scaleX(0.9470);">3 Jan 2022</div>
<div class="abs m" id="d8" style="left:514.6px;top:519.0px;font-size:10px;line-height:10px;color:#000;transform-origin:0 0;transform:scaleX(0.9470);">12 Jan 2022</div>
<div class="abs m" id="d9" style="left:578.6px;top:519.0px;font-size:10px;line-height:10px;color:#000;transform-origin:0 0;transform:scaleX(0.9470);">21 Jan 2022</div>
<div class="abs m" id="d10" style="left:642.6px;top:519.0px;font-size:10px;line-height:10px;color:#000;transform-origin:0 0;transform:scaleX(0.9470);">31 Jan 2022</div>
<div class="abs m" id="d11" style="left:706.6px;top:519.0px;font-size:10px;line-height:10px;color:#000;transform-origin:0 0;transform:scaleX(0.9470);">9 Feb 2022</div>
<div class="abs m" id="d12" style="left:770.6px;top:519.0px;font-size:10px;line-height:10px;color:#000;transform-origin:0 0;transform:scaleX(0.9470);">18 Feb 2022</div>
<div class="abs m" id="d13" style="left:834.6px;top:519.0px;font-size:10px;line-height:10px;color:#000;transform-origin:0 0;transform:scaleX(0.9470);">28 Feb 2022</div>
<div class="abs m" id="d14" style="left:898.6px;top:519.0px;font-size:10px;line-height:10px;color:#000;transform-origin:0 0;transform:scaleX(0.9470);">9 Mar 2022</div>
<div class="abs" style="left:5px;top:46px;width:223px;height:60px;background:#fff"></div>
<div class="abs" style="left:7px;top:47px;width:52px;height:24px;box-sizing:border-box;border:1px solid #b40000;border-bottom:none;background:linear-gradient(#f85050,#e03030)"></div>
<div class="abs" style="left:174px;top:47px;width:52px;height:24px;box-sizing:border-box;border:1px solid #b40000;border-bottom:none;background:linear-gradient(#f85050,#e03030)"></div>
<div class="abs" style="left:59px;top:47px;width:115px;height:24px;background:#fff"></div>
<div class="abs" style="left:7px;top:71px;width:109px;height:33px;box-sizing:border-box;border:1px solid #b00000;border-top:none;background:linear-gradient(#dc2828,#b40000)"></div>
<div class="abs" style="left:116px;top:71px;width:2px;height:33px;background:#fff"></div>
<div class="abs" style="left:118px;top:71px;width:108px;height:33px;box-sizing:border-box;border:1px solid #b00000;border-top:none;background:linear-gradient(#dc2828,#b40000)"></div>
<div class="abs" style="left:11px;top:70px;width:44px;height:1px;background:#900000"></div>
<div class="abs" style="left:11px;top:71px;width:44px;height:1px;background:#ff6868"></div>
<div class="abs" style="left:178px;top:70px;width:44px;height:1px;background:#900000"></div>
<div class="abs" style="left:178px;top:71px;width:44px;height:1px;background:#ff6868"></div>
<div class="abs" style="left:61px;top:47px;width:111px;height:22px;box-sizing:border-box;border:1px solid #b0b0b0;background:#fff"></div>
<div class="abs" style="left:62px;top:48px;width:20px;height:20px;box-sizing:border-box;border:1px solid #f6f6f6;background:linear-gradient(#eeeeee 45%,#dcdcdc 52%,#e2e2e2)"></div>
<div class="abs" style="left:151px;top:48px;width:20px;height:20px;box-sizing:border-box;border:1px solid #f6f6f6;background:linear-gradient(#eeeeee 45%,#dcdcdc 52%,#e2e2e2)"></div>
<div class="abs" style="left:82px;top:48px;width:1px;height:20px;background:#b0b0b0"></div>
<div class="abs" style="left:150px;top:48px;width:1px;height:20px;background:#b0b0b0"></div>
<div class="abs" style="left:69px;top:56px;width:0;height:0;border-left:3px solid transparent;border-right:3px solid transparent;border-top:3px solid #5a6ec0"></div>
<div class="abs" style="left:158px;top:56px;width:0;height:0;border-left:3px solid transparent;border-right:3px solid transparent;border-bottom:3px solid #5a6ec0"></div>
<div class="abs" id="vol" style="left:123px;top:50px;font-size:13px;line-height:15px;color:#000;transform-origin:0 0;transform:scaleX(0.96)">5.00</div>
<div class="abs" id="sell" style="left:19px;top:52px;font-size:12.5px;line-height:14px;color:#fff;transform-origin:0 0;transform:scaleX(0.86)">SELL</div>
<div class="abs" id="buy" style="left:187px;top:52px;font-size:12.5px;line-height:14px;color:#fff;transform-origin:0 0;transform:scaleX(0.98)">BUY</div>
<div class="abs" id="s72" style="left:27px;top:88.5px;font-size:12px;letter-spacing:0.4px;line-height:12px;font-weight:bold;color:#fff">0.72</div>
<div class="abs" id="s94" style="left:53.5px;top:69px;font-size:34px;line-height:38px;color:#fff;letter-spacing:-1.5px">94</div>
<div class="abs" id="s9" style="left:94px;top:74px;font-size:11.5px;line-height:12px;font-weight:bold;color:#fff">9</div>
<div class="abs" id="b72" style="left:137px;top:88.5px;font-size:12px;letter-spacing:0.4px;line-height:12px;font-weight:bold;color:#fff">0.72</div>
<div class="abs" id="b96" style="left:165px;top:69px;font-size:34px;line-height:38px;color:#fff;letter-spacing:-1.5px">96</div>
<div class="abs" id="b9" style="left:205px;top:74px;font-size:11.5px;line-height:12px;font-weight:bold;color:#fff">9</div>

<div class="abs" style="left:0;top:534px;width:1207px;height:2px;background:#ececec"></div>
<div class="abs" style="left:0;top:536px;width:1207px;height:19px;background:#f0f0f0"></div>
<div class="abs" style="left:0;top:555px;width:1207px;height:3px;background:#fafafa"></div>
<div class="abs" style="left:0;top:536px;width:1207px;height:1px;background:#000"></div>
<div class="abs" style="left:0;top:536px;width:2px;height:19px;background:#606060"></div>
<div class="abs" style="left:213px;top:536px;width:108px;height:18px;box-sizing:border-box;border:1px solid #000;border-top:none;background:#fff"></div>
<div class="tab" style="left:16.5px;color:#808080">USDX,Weekly</div>
<div class="tab" style="left:116.0px;color:#808080">EURUSD-,Daily</div>
<div class="tab" style="left:223.4px;color:#000">AUDUSD-,Daily</div>
<div class="tab" style="left:333.5px;color:#808080">USDCHF-,Daily</div>
<div class="tab" style="left:440.4px;color:#808080">USDCAD-,Daily</div>
<div class="tab" style="left:549.8px;color:#808080">USDCNH-,Daily</div>
<div class="tab" style="left:660.0px;color:#808080">XAUUSD-,H1</div>
<div class="tab" style="left:756.3px;color:#808080">UKOil-,Daily</div>
<div class="tab" style="left:849.6px;color:#808080">DJ30-,Daily</div>
<div class="tab" style="left:936.5px;color:#808080">UK100-,H1</div>
<div class="tab" style="left:1021.5px;color:#808080">USOil-,H1</div>
<div class="sep" style="left:105px"></div>
<div class="sep" style="left:430px"></div>
<div class="sep" style="left:537px"></div>
<div class="sep" style="left:649px"></div>
<div class="sep" style="left:745px"></div>
<div class="sep" style="left:837px"></div>
<div class="sep" style="left:925px"></div>
<div class="sep" style="left:1010px"></div>
<div class="sep" style="left:1089px"></div>
<div class="abs" style="left:1181px;top:542px;width:0;height:0;border-top:3px solid transparent;border-bottom:3px solid transparent;border-right:4px solid #808080"></div>
<div class="abs" style="left:1200.5px;top:542px;width:0;height:0;border-top:3px solid transparent;border-bottom:3px solid transparent;border-left:4px solid #808080"></div>
</body></html>
